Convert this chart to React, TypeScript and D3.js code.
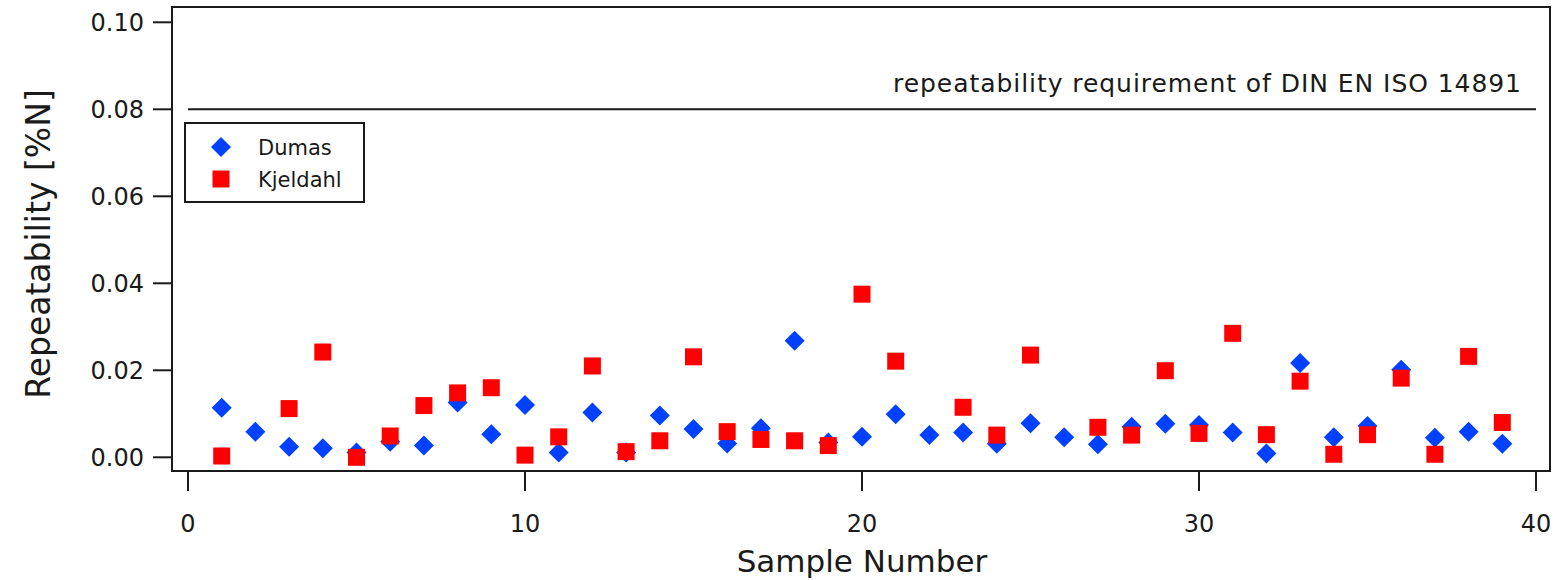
import React from "react";
import * as d3 from "d3";

const samples = d3.range(1, 40);
const dumas = [
  0.0114, 0.0059, 0.0024, 0.0021, 0.0011, 0.0036, 0.0027, 0.0126, 0.0053, 0.012,
  0.0011, 0.0103, 0.0011, 0.0096, 0.0065, 0.0032, 0.0067, 0.0268, 0.0034, 0.0047,
  0.0099, 0.0051, 0.0057, 0.0031, 0.0078, 0.0046, 0.003, 0.007, 0.0077, 0.0074,
  0.0057, 0.0009, 0.0217, 0.0046, 0.0072, 0.0201, 0.0045, 0.0059, 0.0031,
];
const kjeldahl: (number | null)[] = [
  0.0003, null, 0.0112, 0.0242, 0.0, 0.0049, 0.0119, 0.0148, 0.016, 0.0005,
  0.0047, 0.021, 0.0013, 0.0038, 0.0231, 0.0059, 0.0041, 0.0038, 0.0027, 0.0375,
  0.0221, null, 0.0115, 0.0051, 0.0235, null, 0.0069, 0.0051, 0.0199, 0.0055,
  0.0285, 0.0052, 0.0175, 0.0007, 0.0052, 0.0182, 0.0007, 0.0232, 0.008,
];
const xTicks = [0, 10, 20, 30, 40];
const yTicks = [0, 0.02, 0.04, 0.06, 0.08, 0.1];
const requirement = 0.08;
const requirementLabel = "repeatability requirement of DIN EN ISO 14891";
const seriesNames = ["Dumas", "Kjeldahl"];

const W = 1557;
const H = 580;
const FONT = "'DejaVu Sans', sans-serif";
const BLUE = "#0040ff";
const RED = "#ff0000";
const INK = "#1a1a1a";

export default function App() {
  const x = d3.scaleLinear().domain([0, 40]).range([188, 1536]);
  const y = d3.scaleLinear().domain([0, 0.1]).range([457.3, 22.3]);
  const box = { left: 172, top: 7, right: 1550, bottom: 471 };
  const diamond = d3.symbol(d3.symbolDiamond2, 255)()!;
  const square = d3.symbol(d3.symbolSquare, 289)()!;

  return (
    <svg
      width={W}
      height={H}
      style={{ position: "absolute", left: 0, top: 0, background: "#fff" }}
      fontFamily={FONT}
    >
      <rect
        x={box.left}
        y={box.top}
        width={box.right - box.left}
        height={box.bottom - box.top}
        fill="none"
        stroke={INK}
        strokeWidth={2}
      />
      {yTicks.map((t) => (
        <g key={"y" + t}>
          <line x1={153} x2={box.left} y1={y(t)} y2={y(t)} stroke={INK} strokeWidth={2} />
          <text x={144} y={y(t)} dy="0.36em" textAnchor="end" fontSize={24} fill={INK}>
            {d3.format(".2f")(t)}
          </text>
        </g>
      ))}
      {xTicks.map((t) => (
        <g key={"x" + t}>
          <line x1={x(t)} x2={x(t)} y1={box.bottom} y2={491} stroke={INK} strokeWidth={2} />
          <text x={x(t)} y={532} textAnchor="middle" fontSize={24} fill={INK}>
            {t}
          </text>
        </g>
      ))}
      <text
        transform="translate(50,244) rotate(-90)"
        textAnchor="middle"
        fontSize={33}
        fill={INK}
      >
        Repeatability [%N]
      </text>
      <text x={862} y={572} textAnchor="middle" fontSize={31} fill={INK}>
        Sample Number
      </text>

      <line x1={x(0)} x2={x(40)} y1={y(requirement)} y2={y(requirement)} stroke={INK} strokeWidth={2} />
      <text
        x={893}
        y={92}
        fontSize={25}
        fill={INK}
        textLength={628}
        lengthAdjust="spacing"
      >
        {requirementLabel}
      </text>

      {samples.map((s, i) => (
        <path
          key={"d" + s}
          d={diamond}
          transform={`translate(${x(s)},${y(dumas[i])})`}
          fill={BLUE}
        />
      ))}
      {samples.map((s, i) =>
        kjeldahl[i] == null ? null : (
          <path
            key={"k" + s}
            d={square}
            transform={`translate(${x(s)},${y(kjeldahl[i] as number)})`}
            fill={RED}
          />
        )
      )}

      <rect x={185} y={123} width={179} height={79} fill="#fff" stroke={INK} strokeWidth={2} />
      <path d={diamond} transform="translate(221,147)" fill={BLUE} />
      <path d={square} transform="translate(221,179)" fill={RED} />
      <text x={258} y={155} fontSize={21} fill={INK}>{seriesNames[0]}</text>
      <text x={258} y={187} fontSize={21} fill={INK}>{seriesNames[1]}</text>
    </svg>
  );
}
